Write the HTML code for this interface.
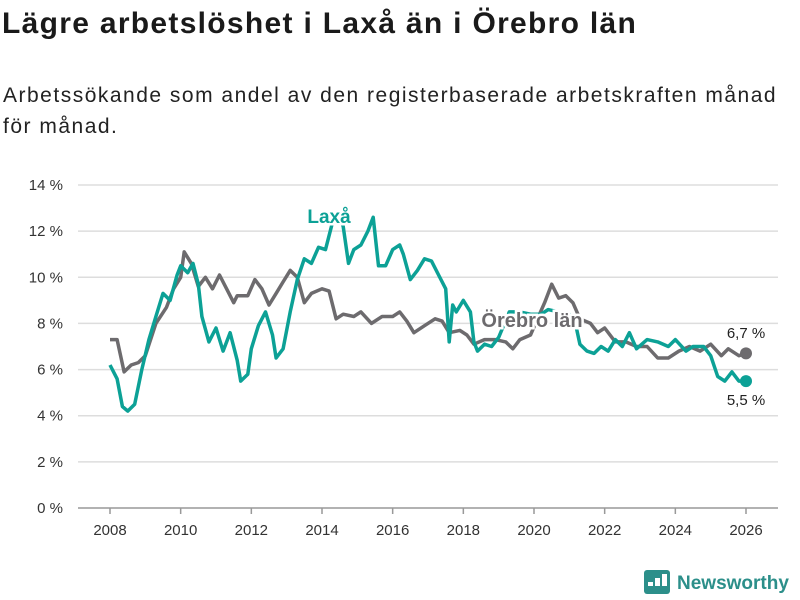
<!DOCTYPE html>
<html><head><meta charset="utf-8"><style>
body{margin:0;width:800px;height:600px;background:#fff;font-family:"Liberation Sans","DejaVu Sans",sans-serif;overflow:hidden;position:relative}
h1{position:absolute;left:2px;top:7px;margin:0;font-size:30px;font-weight:bold;color:#1a1a1a;letter-spacing:1.3px;white-space:nowrap}
p{position:absolute;left:3px;top:80px;margin:0;font-size:21px;line-height:31px;color:#222;width:790px;letter-spacing:1.5px}
svg{position:absolute;left:0;top:0}
</style></head><body>
<h1>Lägre arbetslöshet i Laxå än i Örebro län</h1>
<p>Arbetssökande som andel av den registerbaserade arbetskraften månad<br>för månad.</p>
<svg id="c" width="800" height="600"></svg>
<script>
const yTicks=[0,2,4,6,8,10,12,14];
const xTicks=[2008,2010,2012,2014,2016,2018,2020,2022,2024,2026];
const orebroT=[2008,2008.2,2008.4,2008.6,2008.8,2009,2009.3,2009.6,2009.8,2010,2010.1,2010.3,2010.5,2010.7,2010.9,2011.1,2011.3,2011.5,2011.6,2011.9,2012.1,2012.3,2012.5,2012.7,2012.9,2013.1,2013.3,2013.5,2013.7,2014,2014.2,2014.4,2014.6,2014.9,2015.1,2015.4,2015.7,2016,2016.2,2016.4,2016.6,2016.9,2017.2,2017.4,2017.6,2017.9,2018.1,2018.3,2018.6,2018.9,2019.2,2019.4,2019.6,2019.9,2020.1,2020.3,2020.5,2020.7,2020.9,2021.1,2021.3,2021.6,2021.8,2022,2022.3,2022.6,2022.9,2023.2,2023.5,2023.8,2024.1,2024.4,2024.7,2025,2025.3,2025.5,2025.8,2026];
const orebroV=[7.3,7.3,5.9,6.2,6.3,6.6,8.0,8.7,9.5,10.0,11.1,10.6,9.6,10.0,9.5,10.1,9.5,8.9,9.2,9.2,9.9,9.5,8.8,9.3,9.8,10.3,10.0,8.9,9.3,9.5,9.4,8.2,8.4,8.3,8.5,8.0,8.3,8.3,8.5,8.1,7.6,7.9,8.2,8.1,7.6,7.7,7.5,7.1,7.3,7.3,7.2,6.9,7.3,7.5,8.2,8.9,9.7,9.1,9.2,8.9,8.2,8.0,7.6,7.8,7.2,7.2,7.0,7.0,6.5,6.5,6.8,7.0,6.8,7.1,6.6,6.9,6.6,6.7];
const laxaT=[2008,2008.2,2008.35,2008.5,2008.7,2008.9,2009.1,2009.3,2009.5,2009.7,2009.9,2010,2010.2,2010.35,2010.5,2010.6,2010.8,2011,2011.2,2011.4,2011.6,2011.7,2011.9,2012,2012.2,2012.4,2012.6,2012.7,2012.9,2013.1,2013.3,2013.5,2013.7,2013.9,2014.1,2014.3,2014.45,2014.6,2014.75,2014.9,2015.1,2015.3,2015.45,2015.6,2015.8,2016,2016.2,2016.3,2016.5,2016.7,2016.9,2017.1,2017.3,2017.5,2017.6,2017.7,2017.8,2018,2018.2,2018.3,2018.4,2018.6,2018.8,2019,2019.3,2019.6,2019.9,2020.2,2020.4,2020.7,2021,2021.2,2021.3,2021.5,2021.7,2021.9,2022.1,2022.3,2022.5,2022.7,2022.9,2023.2,2023.5,2023.8,2024,2024.3,2024.5,2024.8,2025,2025.2,2025.4,2025.6,2025.8,2026];
const laxaV=[6.2,5.6,4.4,4.2,4.5,6.0,7.3,8.3,9.3,9.0,10.1,10.5,10.2,10.6,9.7,8.3,7.2,7.8,6.8,7.6,6.4,5.5,5.8,6.9,7.9,8.5,7.5,6.5,6.9,8.5,9.9,10.8,10.6,11.3,11.2,12.4,12.8,12.2,10.6,11.2,11.4,12.0,12.6,10.5,10.5,11.2,11.4,11.0,9.9,10.3,10.8,10.7,10.1,9.5,7.2,8.8,8.5,9.0,8.5,7.2,6.8,7.1,7.0,7.4,8.5,8.5,8.4,8.4,8.6,8.5,8.4,7.8,7.1,6.8,6.7,7.0,6.8,7.3,7.0,7.6,6.9,7.3,7.2,7.0,7.3,6.8,7.0,7.0,6.6,5.7,5.5,5.9,5.5,5.5];
const NS='http://www.w3.org/2000/svg';
const svg=document.getElementById('c');
const X=t=>110+(t-2008)*(746-110)/18;
const Y=v=>508-v*(508-185)/14;
function mk(tag,a,txt){const e=document.createElementNS(NS,tag);for(const k in a)e.setAttribute(k,a[k]);if(txt!=null)e.textContent=txt;svg.appendChild(e);return e;}
yTicks.forEach(v=>{
 const l=mk('line',{x1:78,x2:778,y1:Y(v),y2:Y(v),stroke:v===0?'#999':'#ddd','stroke-width':1.5});
 
 
 const t=mk('text',{x:63,y:Y(v)+5,'text-anchor':'end','font-size':15,fill:'#333'},v+' %');
 
 
});
xTicks.forEach(y=>{
 const l=mk('line',{x1:X(y),x2:X(y),y1:508,y2:514,stroke:'#999','stroke-width':1.5});
 
 
 const t=mk('text',{x:X(y),y:535,'text-anchor':'middle','font-size':15,fill:'#333'},y);
 
 
});
function line(T,V,c,name){
 const d=T.map((t,i)=>(i?'L':'M')+X(t).toFixed(1)+','+Y(V[i]).toFixed(1)).join('');
 const p=mk('path',{d:d,fill:'none',stroke:c,'stroke-width':3.5,'stroke-linejoin':'round'});
 
 
 const n=T.length-1;
 const dot=mk('circle',{cx:X(T[n]),cy:Y(V[n]),r:6,fill:c});
 
 
}
line(orebroT,orebroV,'#6d6b6e','orebro-line');
line(laxaT,laxaV,'#0ca196','laxa-line');
let t=mk('text',{x:329,y:223,'text-anchor':'middle','font-size':19,'font-weight':'bold',fill:'#0ca196',stroke:'#fff','stroke-width':5,'paint-order':'stroke'},'Laxå');


t=mk('text',{x:532,y:327,'text-anchor':'middle','font-size':20,'font-weight':'bold',fill:'#6d6b6e',stroke:'#fff','stroke-width':5,'paint-order':'stroke'},'Örebro län');


t=mk('text',{x:746,y:338,'text-anchor':'middle','font-size':15,fill:'#222'},'6,7 %');


t=mk('text',{x:746,y:405,'text-anchor':'middle','font-size':15,fill:'#222'},'5,5 %');


const g=mk('g',{});


const bg=document.createElementNS(NS,'rect');bg.setAttribute('x',644);bg.setAttribute('y',570);bg.setAttribute('width',26);bg.setAttribute('height',24);bg.setAttribute('rx',3);bg.setAttribute('fill','#2c8f8a');g.appendChild(bg);
[[648,582,8],[655,578,12],[662,574,16]].forEach(b=>{const r=document.createElementNS(NS,'rect');r.setAttribute('x',b[0]);r.setAttribute('y',b[1]);r.setAttribute('width',5);r.setAttribute('height',b[2]-4);r.setAttribute('fill','#fff');g.appendChild(r);});
const lt=mk('text',{x:677,y:589,'font-size':19,'font-weight':'bold',fill:'#2c8f8a'},'Newsworthy');


</script>
</body></html>
